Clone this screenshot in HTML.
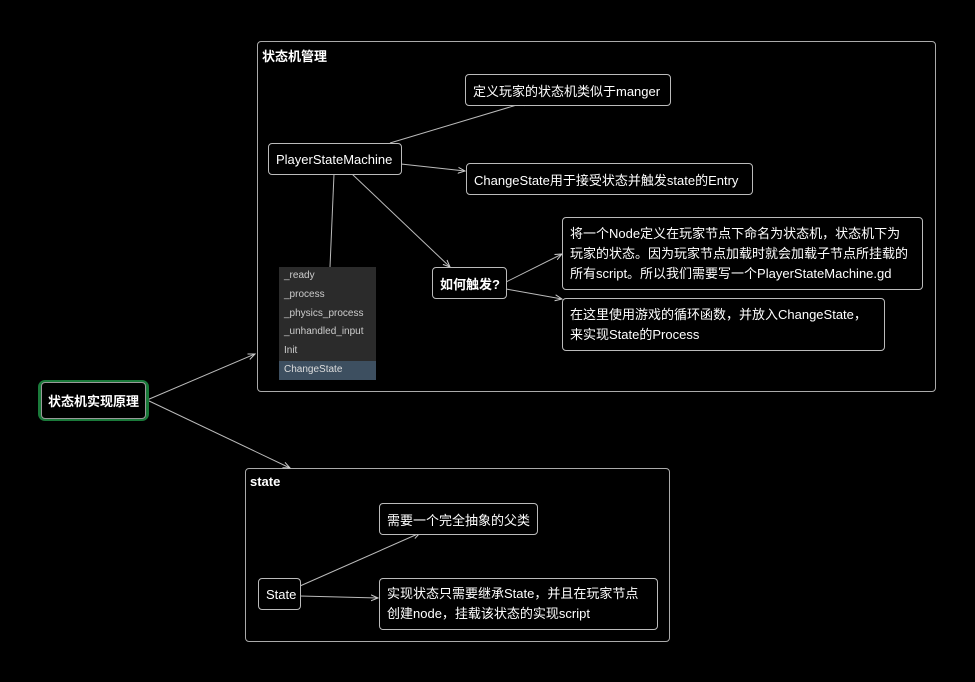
<!DOCTYPE html>
<html><head><meta charset="utf-8"><style>
body{margin:0;background:#000;width:975px;height:682px;overflow:hidden;position:relative;font-family:"Liberation Sans","Noto Sans CJK SC",sans-serif;color:#fff}
.b{position:absolute;border:1px solid #bbb;border-radius:4px;box-sizing:border-box;font-size:13px;padding:0 7px;display:flex;align-items:center;white-space:nowrap;background:#000}
.g{position:absolute;border:1px solid #aaa;border-radius:4px;box-sizing:border-box}
.t{position:absolute;font-size:13px;font-weight:bold}
.m{position:absolute;left:279px;top:267px;width:97px;height:113px;background:#2b2b2b;font-size:10px;color:#ccc}
.m div{height:18.8px;line-height:18px;padding-left:5px}
.ml{line-height:20px;align-items:center}
</style></head><body>
<div class="g" style="left:257px;top:41px;width:679px;height:351px"></div>
<div class="t" style="left:262px;top:46px">状态机管理</div>
<div class="g" style="left:245px;top:468px;width:425px;height:174px"></div>
<div class="t" style="left:250px;top:474px">state</div>
<svg width="975" height="682" style="position:absolute;left:0;top:0">
<defs><marker id="a" markerWidth="8" markerHeight="8" refX="7" refY="4" orient="auto"><path d="M0,1 L7,4 L0,7" fill="none" stroke="#ccc"/></marker></defs>
<g stroke="#bbb" stroke-width="1" fill="none">
<line x1="147" y1="400" x2="255" y2="354" marker-end="url(#a)"/>
<line x1="147" y1="400" x2="290" y2="468" marker-end="url(#a)"/>
<line x1="390" y1="143" x2="530" y2="101" marker-end="url(#a)"/>
<line x1="401" y1="164" x2="465" y2="171" marker-end="url(#a)"/>
<line x1="352" y1="174" x2="450" y2="267" marker-end="url(#a)"/>
<line x1="334" y1="174" x2="330" y2="267"/>
<line x1="506" y1="282" x2="562" y2="254" marker-end="url(#a)"/>
<line x1="506" y1="289" x2="562" y2="299" marker-end="url(#a)"/>
<line x1="300" y1="586" x2="420" y2="533" marker-end="url(#a)"/>
<line x1="300" y1="596" x2="378" y2="598" marker-end="url(#a)"/>
</g></svg>
<div class="b" style="left:38px;top:380px;width:111px;height:41px;border:3px solid #1a7a3a;border-radius:7px;padding:0"><div style="border:1px solid #999;border-radius:4px;width:100%;height:100%;display:flex;align-items:center;justify-content:center;font-weight:bold;font-size:13px">状态机实现原理</div></div>
<div class="b" style="left:268px;top:143px;width:134px;height:32px">PlayerStateMachine</div>
<div class="b" style="left:465px;top:74px;width:206px;height:32px">定义玩家的状态机类似于manger</div>
<div class="b" style="left:466px;top:163px;width:287px;height:32px">ChangeState用于接受状态并触发state的Entry</div>
<div class="b" style="left:432px;top:267px;width:75px;height:32px;font-weight:bold">如何触发?</div>
<div class="b ml" style="left:562px;top:217px;width:361px;height:73px"><div>将一个Node定义在玩家节点下命名为状态机，状态机下为<br>玩家的状态。因为玩家节点加载时就会加载子节点所挂载的<br>所有script。所以我们需要写一个PlayerStateMachine.gd</div></div>
<div class="b ml" style="left:562px;top:298px;width:323px;height:53px"><div>在这里使用游戏的循环函数，并放入ChangeState，<br>来实现State的Process</div></div>
<div class="m"><div>_ready</div><div>_process</div><div>_physics_process</div><div>_unhandled_input</div><div>Init</div><div style="background:#3d4f60;color:#ddd">ChangeState</div></div>
<div class="b" style="left:379px;top:503px;width:159px;height:32px">需要一个完全抽象的父类</div>
<div class="b" style="left:258px;top:578px;width:43px;height:32px">State</div>
<div class="b ml" style="left:379px;top:578px;width:279px;height:52px"><div>实现状态只需要继承State，并且在玩家节点<br>创建node，挂载该状态的实现script</div></div>
</body></html>
